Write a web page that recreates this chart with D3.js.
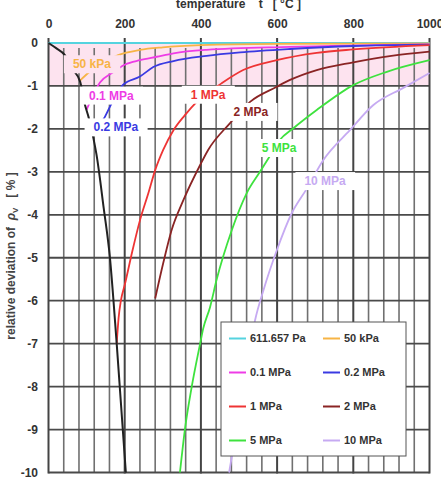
<!DOCTYPE html>
<html>
<head>
<meta charset="utf-8">
<script src="https://cdn.jsdelivr.net/npm/d3@7"></script>
<style>
  body { margin: 0; background: #fff; }
  svg text { font-family: Arial, "Liberation Sans", sans-serif; font-weight: bold; }
</style>
</head>
<body>
<div id="chart"></div>
<script>
// values: [temperature °C, relative deviation %]
var satLine = [[0, 0], [20, -0.12], [43, -0.28], [65, -0.63], [83, -0.9], [96, -1.45], [105, -1.72],
  [118, -2.22], [126, -2.6], [145, -3.85], [161, -4.98], [179, -7.0], [203, -10]];
var p611Pa = [[0, 0], [1000, 0]];
var p50kPa = [[82, -0.88], [108, -0.67], [140, -0.47], [183, -0.28], [240, -0.16], [300, -0.1],
  [400, -0.05], [600, -0.02], [1000, -0.01]];
var p01MPa = [[100, -1.55], [109, -1.37], [135, -0.92], [166, -0.7], [201, -0.5], [240, -0.4],
  [284, -0.32], [328, -0.24], [415, -0.16], [634, -0.09], [1000, -0.03]];
var p02MPa = [[115, -2.1], [148, -1.72], [166, -1.4], [196, -0.97], [240, -0.78], [275, -0.56],
  [328, -0.42], [415, -0.3], [503, -0.22], [634, -0.14], [800, -0.07], [1000, -0.04]];
var p1MPa = [[179, -7.0], [184, -6.4], [190, -6.0], [201, -5.6], [220, -4.85], [240, -4.13],
  [262, -3.5], [280, -2.96], [301, -2.49], [328, -2.03], [358, -1.68], [389, -1.37], [454, -0.94],
  [511, -0.63], [599, -0.4], [704, -0.23], [800, -0.15], [1000, -0.05]];
var p2MPa = [[280, -5.95], [301, -5.13], [323, -4.36], [354, -3.66], [398, -2.84], [419, -2.49],
  [476, -1.87], [529, -1.37], [599, -1.02], [634, -0.86], [704, -0.63], [800, -0.45], [900, -0.3],
  [1000, -0.2]];
var p5MPa = [[345, -10], [358, -9], [376, -8], [398, -7], [406, -6.65], [424, -6.15], [441, -5.52],
  [481, -4.36], [520, -3.5], [555, -3.0], [577, -2.69], [607, -2.26], [642, -1.99], [704, -1.56],
  [800, -0.98], [888, -0.67], [1000, -0.4]];
var p10MPa = [[474, -10], [505, -8.4], [542, -6.46], [564, -5.76], [599, -4.83], [638, -3.97],
  [678, -3.39], [721, -2.73], [791, -2.03], [852, -1.45], [930, -1.05], [1000, -0.7]];

var seriesNames = ["611.657 Pa", "50 kPa", "0.1 MPa", "0.2 MPa", "1 MPa", "2 MPa", "5 MPa", "10 MPa"];
var seriesValues = [p611Pa, p50kPa, p01MPa, p02MPa, p1MPa, p2MPa, p5MPa, p10MPa];
var seriesColors = ["#55d3df", "#f7b445", "#ee3ce6", "#3a3ae2", "#ee3434", "#8a2424", "#3ee23e", "#c6aaf2"];

var xTicks = [0, 200, 400, 600, 800, 1000];
var yTicks = [0, -1, -2, -3, -4, -5, -6, -7, -8, -9, -10];

// in-plot curve labels, placed at [t, deviation]
var labelNames = ["50 kPa", "0.1 MPa", "0.2 MPa", "1 MPa", "2 MPa", "5 MPa", "10 MPa"];
var labelSeries = [1, 2, 3, 4, 5, 6, 7];
var labelPos = [[114, -0.49], [165, -1.22], [177, -1.96], [419, -1.2], [531, -1.6], [605, -2.44], [726, -3.21]];

var svgWidth = 441;
var svgHeight = 479;

var margin = {
  top: 43,
  right: 11.5,
  bottom: 6.5,
  left: 48.5
};

var width = svgWidth - margin.left - margin.right;
var height = svgHeight - margin.top - margin.bottom;

var svg = d3.select("#chart")
  .append("svg")
  .attr("width", svgWidth)
  .attr("height", svgHeight);

svg.append("rect")
  .attr("width", svgWidth)
  .attr("height", svgHeight)
  .attr("fill", "#fff");

var chartGroup = svg.append("g")
  .attr("transform", `translate(${margin.left}, ${margin.top})`);

var xScale = d3.scaleLinear().domain([0, 1000]).range([0, width]);
var yScale = d3.scaleLinear().domain([-10, 0]).range([height, 0]);

// pink band between 0 and -1
chartGroup.append("rect")
  .attr("x", 0)
  .attr("y", yScale(0))
  .attr("width", width)
  .attr("height", yScale(-1) - yScale(0))
  .attr("fill", "#fde3ef");

// grid
var minorT = d3.range(0, 1001, 40).filter(d => d % 200 !== 0);

chartGroup.selectAll(".minor")
  .data(minorT)
  .enter()
  .append("line")
  .attr("x1", d => xScale(d))
  .attr("x2", d => xScale(d))
  .attr("y1", yScale(0) + 5)
  .attr("y2", yScale(-10))
  .attr("stroke", "#707070")
  .attr("stroke-width", 1.6);

chartGroup.selectAll(".hgrid")
  .data(yTicks)
  .enter()
  .append("line")
  .attr("x1", 0)
  .attr("x2", width)
  .attr("y1", d => yScale(d))
  .attr("y2", d => yScale(d))
  .attr("stroke", "#4a4a4a")
  .attr("stroke-width", 1.8);

chartGroup.selectAll(".major")
  .data(xTicks)
  .enter()
  .append("line")
  .attr("x1", d => xScale(d))
  .attr("x2", d => xScale(d))
  .attr("y1", yScale(0) - 5)
  .attr("y2", yScale(-10) + 1)
  .attr("stroke", "#444")
  .attr("stroke-width", 2);

// axes (labels only, the grid draws the lines)
var topAxis = d3.axisTop(xScale)
  .tickValues(xTicks)
  .tickSize(0)
  .tickPadding(15)
  .tickFormat(d => String(d));

var leftAxis = d3.axisLeft(yScale)
  .tickValues(yTicks)
  .tickSize(0)
  .tickPadding(10.5)
  .tickFormat(d => String(d));

var xAxis = chartGroup.append("g").call(topAxis);
var yAxis = chartGroup.append("g").call(leftAxis);

[xAxis, yAxis].forEach(function(ax) {
  ax.select(".domain").remove();
  ax.attr("font-family", null).attr("font-size", null);
  ax.selectAll("text")
    .attr("font-size", "12px")
    .attr("fill", "#333");
});

// curves
var line = d3.line()
  .x(d => xScale(d[0]))
  .y(d => yScale(d[1]))
  .curve(d3.curveMonotoneX);

var curvesGroup = chartGroup.append("g");

curvesGroup.selectAll("path")
  .data(seriesValues)
  .enter()
  .append("path")
  .attr("d", d => line(d))
  .attr("fill", "none")
  .attr("stroke", (d, i) => seriesColors[i])
  .attr("stroke-width", 1.8);

curvesGroup.append("path")
  .attr("d", line(satLine))
  .attr("fill", "none")
  .attr("stroke", "#222")
  .attr("stroke-width", 2);

// curve labels with boxes
var labelsGroup = chartGroup.append("g");

labelNames.forEach(function(name, i) {
  var g = labelsGroup.append("g");
  var box = g.append("rect");
  var txt = g.append("text")
    .attr("x", xScale(labelPos[i][0]))
    .attr("y", yScale(labelPos[i][1]))
    .attr("dy", "0.35em")
    .attr("text-anchor", "middle")
    .attr("font-size", "12px")
    .attr("fill", seriesColors[labelSeries[i]])
    .text(name);
  var bb = txt.node().getBBox();
  box.attr("x", bb.x - 9)
    .attr("y", bb.y - 2)
    .attr("width", bb.width + 18)
    .attr("height", bb.height + 4)
    .attr("fill", labelPos[i][1] > -0.8 ? "#fde3ef" : "#fff");
});

// legend
var legend = svg.append("g")
  .attr("transform", "translate(221, 322)");

legend.append("rect")
  .attr("width", 185)
  .attr("height", 134)
  .attr("fill", "#fff")
  .attr("stroke", "#555")
  .attr("stroke-width", 1);

var legendItems = legend.selectAll(".item")
  .data(seriesNames)
  .enter()
  .append("g")
  .attr("transform", (d, i) => `translate(${8 + (i % 2) * 94}, ${16.5 + Math.floor(i / 2) * 34})`);

legendItems.append("line")
  .attr("x1", 0)
  .attr("x2", 17)
  .attr("stroke", (d, i) => seriesColors[i])
  .attr("stroke-width", 2);

legendItems.append("text")
  .attr("x", 21)
  .attr("dy", "0.35em")
  .attr("font-size", "11px")
  .attr("fill", "#333")
  .text(d => d);

// titles
svg.append("text")
  .attr("x", 238.5)
  .attr("y", 8)
  .attr("text-anchor", "middle")
  .attr("font-size", "12px")
  .attr("fill", "#333")
  .style("white-space", "pre")
  .text("temperature    t   [ °C ]");

var yTitle = svg.append("text")
  .attr("transform", "translate(15, 256) rotate(-90)")
  .attr("text-anchor", "middle")
  .attr("font-size", "12px")
  .attr("fill", "#444")
  .style("white-space", "pre");

yTitle.append("tspan").text("relative deviation of  ");
yTitle.append("tspan").attr("font-style", "italic").text("ρ");
yTitle.append("tspan").attr("font-size", "8px").attr("dy", 3).text("V");
yTitle.append("tspan").attr("dy", -3).text("   [ % ]");
</script>
</body>
</html>
